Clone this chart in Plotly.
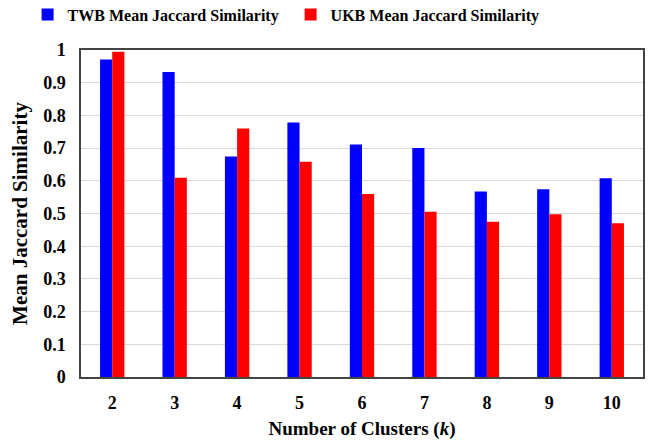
import plotly.graph_objects as go

clusters = ["2", "3", "4", "5", "6", "7", "8", "9", "10"]
twb_values = [0.971, 0.933, 0.674, 0.778, 0.711, 0.700, 0.567, 0.574, 0.608]
ukb_values = [0.995, 0.609, 0.760, 0.658, 0.560, 0.505, 0.475, 0.498, 0.470]
y_ticks = [0, 0.1, 0.2, 0.3, 0.4, 0.5, 0.6, 0.7, 0.8, 0.9, 1]
y_tick_labels = ["0", "0.1", "0.2", "0.3", "0.4", "0.5", "0.6", "0.7", "0.8", "0.9", "1"]

font_family = "Liberation Serif"

fig = go.Figure()
fig.add_trace(go.Bar(name="<b>TWB Mean Jaccard Similarity</b>", x=clusters, y=twb_values,
                     marker=dict(color="#0000FF", line=dict(width=0))))
fig.add_trace(go.Bar(name="<b>UKB Mean Jaccard Similarity</b>", x=clusters, y=ukb_values,
                     marker=dict(color="#FF0000", line=dict(width=0))))

# page body has an 8px default margin, so the figure is sized to the visible area
fig.update_layout(
    width=645, height=434,
    margin=dict(l=73, r=10, t=42, b=65, autoexpand=False),
    paper_bgcolor="white", plot_bgcolor="white",
    barmode="group", bargap=0.61, bargroupgap=0,
    font=dict(family=font_family, color="black", size=17),
    legend=dict(orientation="h", x=-0.095, y=1.16, xanchor="left", yanchor="top",
                font=dict(size=16, family=font_family), itemwidth=30,
                entrywidth=218, entrywidthmode="pixels",
                tracegroupgap=0, bgcolor="rgba(0,0,0,0)"),
    xaxis=dict(
        type="category",
        showline=True, linecolor="#444444", linewidth=1.5, mirror=True,
        ticks="", tickfont=dict(size=18, family=font_family),
        ticklabelstandoff=9,
        tickvals=clusters, ticktext=["<b>%s</b>" % c for c in clusters],
        title=dict(text="<b>Number of Clusters (<i>k</i>)</b>", font=dict(size=19, family=font_family), standoff=9),
    ),
    yaxis=dict(
        range=[0, 1], tickvals=y_ticks, ticktext=["<b>%s</b>" % t for t in y_tick_labels],
        showline=True, linecolor="#444444", linewidth=1.5, mirror=True,
        showgrid=True, gridcolor="#D9D9D9", gridwidth=1,
        ticks="", tickfont=dict(size=18, family=font_family),
        ticklabelstandoff=10,
        title=dict(text="<b>Mean Jaccard Similarity</b>", font=dict(size=21, family=font_family), standoff=24),
        zeroline=False,
    ),
)

fig.write_html("out.html")
